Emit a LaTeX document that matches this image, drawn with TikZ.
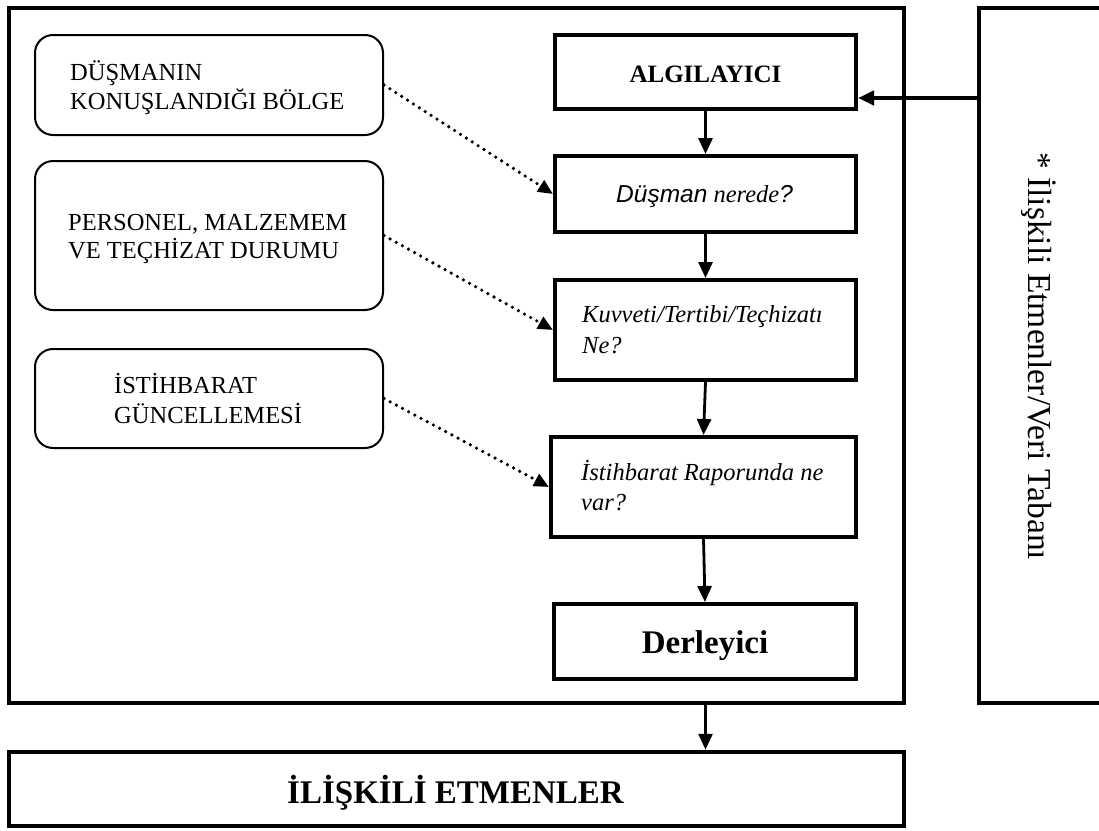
\documentclass[tikz,border=0pt]{standalone}
\usepackage{fontspec}
\setmainfont{Liberation Serif}
\newfontfamily\arialfont{Liberation Sans}
\usetikzlibrary{arrows.meta}

\begin{document}
\begin{tikzpicture}[x=1pt,y=-1pt,
  panel/.style={draw, line width=4.5pt, inner sep=0pt},
  stage/.style={draw, line width=4pt, inner sep=0pt},
  source/.style={draw, line width=2pt, rounded corners=18pt, inner sep=0pt},
  flow/.style={-{Triangle[length=16pt,width=14pt]}, line width=2.8pt},
  feed/.style={-{Triangle[length=15pt,width=13pt]}, line width=3.6pt, line cap=round, dash pattern=on 0pt off 7pt},
  txt/.style={inner sep=0pt, anchor=base west, align=left},
  ctxt/.style={inner sep=0pt, anchor=base},
]
\useasboundingbox (0,0) rectangle (1099,830);
\clip (0,0) rectangle (1099,830);

% frames
\node[panel, minimum width=895, minimum height=695] (main) at (456.5,355.5) {};
\node[panel, minimum width=141, minimum height=695] (db) at (1049.5,355.5) {};
\node[panel, minimum width=895, minimum height=74] (rel) at (456.5,789) {};

% source boxes on the left
\node[source, minimum width=348, minimum height=100] (src1) at (209,85) {};
\node[source, minimum width=348, minimum height=149] (src2) at (209,235.5) {};
\node[source, minimum width=348, minimum height=99] (src3) at (209,398.5) {};

% processing chain
\node[stage, minimum width=301, minimum height=74] (alg) at (705.5,72) {};
\node[stage, minimum width=301, minimum height=76] (dus) at (705.5,194) {};
\node[stage, minimum width=301, minimum height=100] (kuv) at (705.5,330) {};
\node[stage, minimum width=305, minimum height=100] (ist) at (703.5,487) {};
\node[stage, minimum width=302, minimum height=75] (der) at (705,641.5) {};

% texts (multi-line nodes sit on the baseline of their last line)
\node[txt, font=\fontsize{24.5}{29}\selectfont] (src1t) at (70,109) {DÜŞMANIN\\KONUŞLANDIĞI BÖLGE};
\node[txt, font=\fontsize{24.5}{28}\selectfont] (src2t) at (68,258) {PERSONEL, MALZEMEM\\VE TEÇHİZAT DURUMU};
\node[txt, font=\fontsize{24.5}{30}\selectfont] (src3t) at (114,423) {İSTİHBARAT\\GÜNCELLEMESİ};

\node[ctxt, font=\bfseries\fontsize{25}{30}\selectfont] (algt) at (705.5,82) {ALGILAYICI};
\node[txt, font=\itshape\fontsize{24.5}{29}\selectfont] (dust) at (616,202) {{\arialfont Düşman} nerede{\arialfont ?}};
\node[txt, font=\itshape\fontsize{24.5}{31}\selectfont] (kuvt) at (582,353) {Kuvveti/Tertibi/Teçhizatı\\Ne?};
\node[txt, font=\itshape\fontsize{24.5}{30}\selectfont] (istt) at (581,510) {İstihbarat Raporunda ne\\var?};
\node[ctxt, font=\bfseries\fontsize{33}{40}\selectfont] (dert) at (705,653) {Derleyici};
\node[ctxt, font=\bfseries\fontsize{33}{40}\selectfont] (relt) at (455.5,803) {İLİŞKİLİ ETMENLER};
\node[inner sep=0pt, anchor=base west, rotate=-90, font=\fontsize{33.5}{40}\selectfont] (dbt) at (1028,152) {* İlişkili Etmenler/Veri Tabanı};

% connectors
\coordinate (algin) at ([yshift=-26pt]alg.east);
\draw[flow, line width=4pt] (db.west |- algin) -- (algin);
\draw[flow] (alg.south) -- (dus.north);
\draw[flow] (dus.south) -- (kuv.north);
\draw[flow] (kuv.south) -- (ist.north);
\draw[flow] (ist.south) -- (der.north);
\draw[flow] (alg.south |- main.south) -- (alg.south |- rel.north);

\draw[feed] (src1.east) -- (dus.west);
\draw[feed] (src2.east) -- (kuv.west);
\draw[feed] (src3.east) -- (ist.west);
\end{tikzpicture}
\end{document}
